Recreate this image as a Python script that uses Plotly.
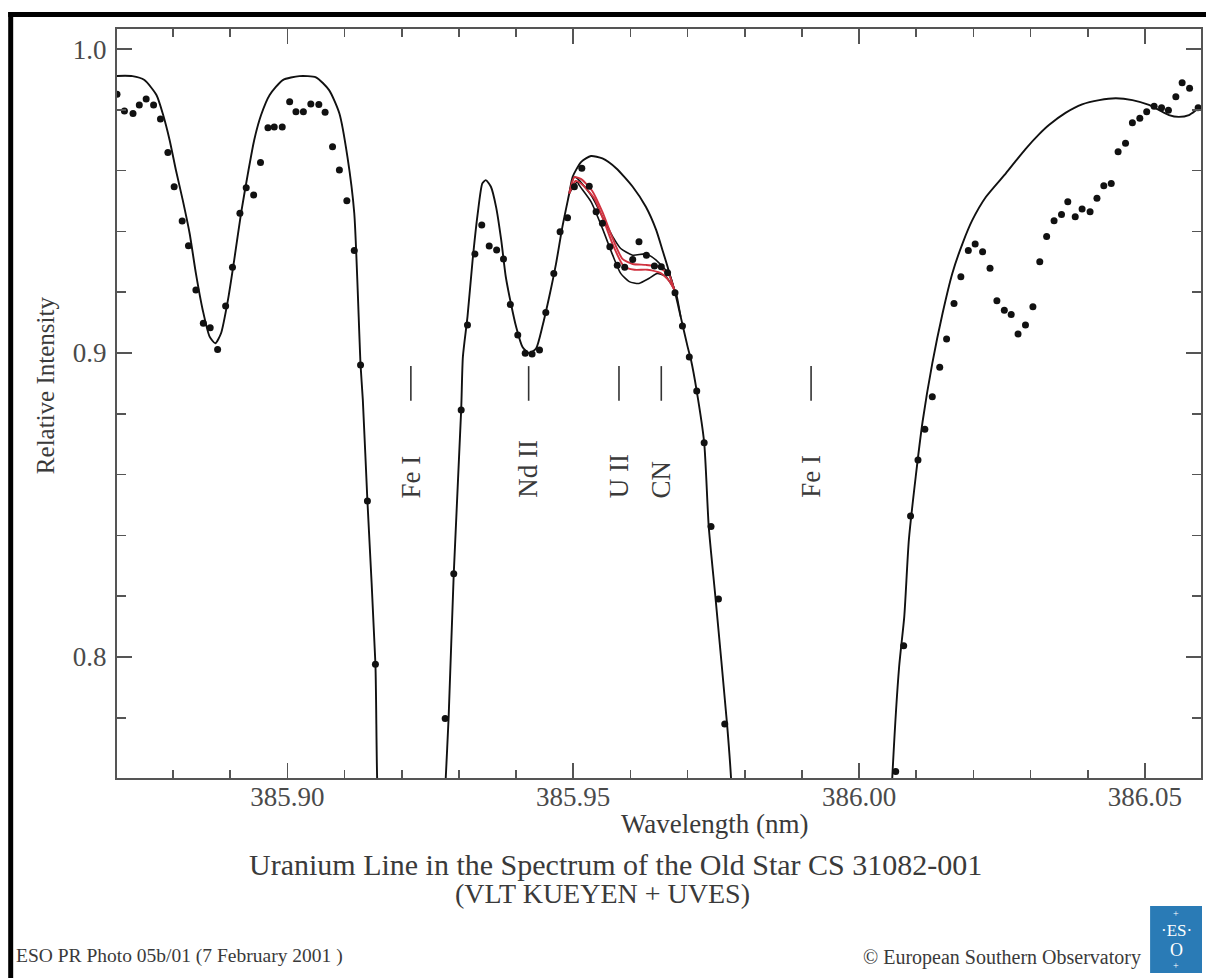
import plotly.graph_objects as go

# ---------------- observed spectrum (dots) ----------------
obs_wl = [
    385.8702, 385.8715, 385.8730, 385.8741, 385.8753, 385.8766, 385.8778, 385.8791,
    385.8802, 385.8816, 385.8827, 385.8840, 385.8853, 385.8865, 385.8878, 385.8892,
    385.8904, 385.8917, 385.8928, 385.8941, 385.8953, 385.8966, 385.8977, 385.8991,
    385.9004, 385.9015, 385.9028, 385.9041, 385.9055, 385.9066, 385.9079, 385.9091,
    385.9104, 385.9117, 385.9128, 385.9140, 385.9154,
    385.9276, 385.9291, 385.9304, 385.9315, 385.9328, 385.9340, 385.9353, 385.9366,
    385.9378, 385.9390, 385.9403, 385.9416, 385.9428, 385.9441, 385.9452, 385.9466,
    385.9477, 385.9490, 385.9502, 385.9515, 385.9528, 385.9540, 385.9551, 385.9564,
    385.9577, 385.9590, 385.9604, 385.9615, 385.9628, 385.9642, 385.9654, 385.9665,
    385.9678, 385.9691, 385.9703, 385.9716, 385.9729, 385.9741, 385.9754, 385.9765,
    386.0064, 386.0078, 386.0090, 386.0103, 386.0115, 386.0128, 386.0141, 386.0153,
    386.0166, 386.0178, 386.0191, 386.0203, 386.0216, 386.0229, 386.0241, 386.0254,
    386.0266, 386.0278, 386.0291, 386.0304, 386.0316, 386.0328, 386.0341, 386.0354,
    386.0365, 386.0378, 386.0390, 386.0404, 386.0416, 386.0428, 386.0441, 386.0453,
    386.0466, 386.0478, 386.0491, 386.0503, 386.0516, 386.0529, 386.0541, 386.0554,
    386.0565, 386.0578, 386.0593,
]
obs_flux = [
    0.9851, 0.9796, 0.9788, 0.9816, 0.9836, 0.9816, 0.9770, 0.9660,
    0.9547, 0.9434, 0.9353, 0.9207, 0.9098, 0.9083, 0.9012, 0.9155,
    0.9282, 0.9460, 0.9544, 0.9520, 0.9627, 0.9741, 0.9744, 0.9744,
    0.9827, 0.9794, 0.9794, 0.9819, 0.9818, 0.9792, 0.9679, 0.9602,
    0.9501, 0.9337, 0.8961, 0.8513, 0.7976,
    0.7798, 0.8274, 0.8813, 0.9092, 0.9326, 0.9421, 0.9352, 0.9339,
    0.9309, 0.9160, 0.9059, 0.8999, 0.8997, 0.9010, 0.9133, 0.9262,
    0.9399, 0.9445, 0.9547, 0.9608, 0.9549, 0.9465, 0.9427, 0.9350,
    0.9289, 0.9282, 0.9308, 0.9366, 0.9322, 0.9286, 0.9284, 0.9264,
    0.9198, 0.9089, 0.8987, 0.8875, 0.8705, 0.8429, 0.8191, 0.7780,
    0.7623, 0.8037, 0.8464, 0.8648, 0.8749, 0.8856, 0.8953, 0.9046,
    0.9163, 0.9251, 0.9337, 0.9359, 0.9333, 0.9279, 0.9172, 0.9141,
    0.9127, 0.9063, 0.9092, 0.9152, 0.9300, 0.9383, 0.9435, 0.9456,
    0.9498, 0.9448, 0.9474, 0.9465, 0.9509, 0.9550, 0.9558, 0.9662,
    0.9690, 0.9758, 0.9772, 0.9794, 0.9812, 0.9807, 0.9799, 0.9843,
    0.9889, 0.9871, 0.9807,
]

# ---------------- synthetic spectrum (main black curve) ----------------
model_wl = [
    385.8690, 385.8729, 385.8750, 385.8771, 385.8782, 385.8794, 385.8805, 385.8817,
    385.8829, 385.8840, 385.8852, 385.8864, 385.8874, 385.8884, 385.8896, 385.8907,
    385.8919, 385.8931, 385.8942, 385.8954, 385.8969, 385.8992, 385.9021, 385.9050,
    385.9073, 385.9091, 385.9105, 385.9117, 385.9128, 385.9132, 385.9140, 385.9154,
    385.9157, 385.9170, 385.9195, 385.9213, 385.9235, 385.9262,
    385.9277, 385.9282, 385.9291, 385.9304, 385.9307, 385.9315, 385.9324, 385.9333,
    385.9341, 385.9347, 385.9356, 385.9365, 385.9374, 385.9382, 385.9391, 385.9400,
    385.9411, 385.9423, 385.9435, 385.9446, 385.9458, 385.9470, 385.9481, 385.9493,
    385.9499, 385.9514, 385.9531, 385.9551, 385.9575, 385.9604, 385.9627, 385.9645,
    385.9656, 385.9665, 385.9668, 385.9677, 385.9688, 385.9700, 385.9706, 385.9716,
    385.9729, 385.9737, 385.9749, 385.9769, 385.9776, 385.9790,
    385.9850, 385.9912, 385.9980, 386.0045,
    386.0058, 386.0070, 386.0079, 386.0087, 386.0099, 386.0111, 386.0128, 386.0146,
    386.0163, 386.0181, 386.0198, 386.0222, 386.0257, 386.0274, 386.0291, 386.0315,
    386.0332, 386.0361, 386.0390, 386.0420, 386.0449, 386.0478, 386.0507, 386.0525,
    386.0542, 386.0559, 386.0577, 386.0594, 386.0610,
]
model_flux = [
    0.9911, 0.9911, 0.9898, 0.9849, 0.9788, 0.9701, 0.9602, 0.9503,
    0.9394, 0.9262, 0.9141, 0.9054, 0.9032, 0.9065, 0.9174, 0.9306,
    0.9460, 0.9591, 0.9701, 0.9783, 0.9849, 0.9898, 0.9911, 0.9907,
    0.9865, 0.9788, 0.9646, 0.9460, 0.8961, 0.8845, 0.8513, 0.7977,
    0.7602, 0.7000, 0.5000, 0.4500, 0.5000, 0.7000,
    0.7602, 0.7799, 0.8274, 0.8813, 0.8988, 0.9119, 0.9306, 0.9460,
    0.9558, 0.9569, 0.9547, 0.9481, 0.9372, 0.9251, 0.9163, 0.9087,
    0.9021, 0.8999, 0.9015, 0.9087, 0.9185, 0.9295, 0.9415, 0.9525,
    0.9580, 0.9629, 0.9648, 0.9640, 0.9608, 0.9547, 0.9481, 0.9405,
    0.9339, 0.9284, 0.9262, 0.9207, 0.9119, 0.9021, 0.8977, 0.8875,
    0.8706, 0.8429, 0.8191, 0.7780, 0.7602, 0.7000,
    0.4000, 0.3000, 0.4000, 0.7000,
    0.7603, 0.7968, 0.8133, 0.8385, 0.8593, 0.8774, 0.8966, 0.9131,
    0.9262, 0.9361, 0.9437, 0.9514, 0.9592, 0.9632, 0.9671, 0.9720,
    0.9750, 0.9790, 0.9818, 0.9832, 0.9838, 0.9832, 0.9816, 0.9799,
    0.9783, 0.9777, 0.9783, 0.9805, 0.9820,
]

# ---------------- synthetic variants around the U II line ----------------
var_black1_wl = [385.9493, 385.9502, 385.9510, 385.9533, 385.9551, 385.9569, 385.9583,
                 385.9604, 385.9627, 385.9645, 385.9662, 385.9668, 385.9677]
var_black1_flux = [0.9525, 0.9579, 0.9569, 0.9514, 0.9448, 0.9383, 0.9344,
                   0.9322, 0.9326, 0.9306, 0.9273, 0.9262, 0.9207]

var_red1_wl = [385.9493, 385.9502, 385.9514, 385.9533, 385.9551, 385.9569, 385.9586,
               385.9604, 385.9627, 385.9650, 385.9662, 385.9668, 385.9677]
var_red1_flux = [0.9525, 0.9579, 0.9572, 0.9534, 0.9464, 0.9377, 0.9310,
                 0.9293, 0.9290, 0.9283, 0.9266, 0.9256, 0.9207]

var_red2_wl = [385.9493, 385.9504, 385.9516, 385.9537, 385.9554, 385.9572, 385.9589,
               385.9607, 385.9630, 385.9653, 385.9665, 385.9671, 385.9677]
var_red2_flux = [0.9525, 0.9566, 0.9554, 0.9508, 0.9432, 0.9344, 0.9284,
                 0.9274, 0.9274, 0.9263, 0.9243, 0.9228, 0.9207]

var_black2_wl = [385.9493, 385.9507, 385.9510, 385.9531, 385.9551, 385.9569, 385.9583,
                 385.9598, 385.9615, 385.9633, 385.9647, 385.9662, 385.9674, 385.9680, 385.9688]
var_black2_flux = [0.9525, 0.9563, 0.9553, 0.9498, 0.9410, 0.9322, 0.9262,
                   0.9235, 0.9229, 0.9246, 0.9262, 0.9251, 0.9218, 0.9197, 0.9119]

# ---------------- line identifications ----------------
id_names = ["Fe I", "Nd II", "U II", "CN", "Fe I"]
id_wl = [385.9216, 385.9422, 385.9580, 385.9654, 385.9916]
id_bar_low, id_bar_high = 0.8843, 0.8957
id_text_base = 0.8516

# ---------------- axes ticks ----------------
x_tickvals = [385.90, 385.95, 386.00, 386.05]
x_ticktext = ["385.90", "385.95", "386.00", "386.05"]
y_tickvals = [0.8, 0.9, 1.0]
y_ticktext = ["0.8", "0.9", "1.0"]

SERIF = "Liberation Serif, Times New Roman, serif"
AXC = "#555555"
TXT = "#3a3a3a"
SMOOTH = 0.6

fig = go.Figure()

# identification bars
bx, by = [], []
for w in id_wl:
    bx += [w, w, None]
    by += [id_bar_low, id_bar_high, None]
fig.add_trace(go.Scatter(x=bx, y=by, mode="lines",
                         line=dict(color="#333333", width=1.6),
                         hoverinfo="skip", showlegend=False))

fig.add_trace(go.Scatter(x=model_wl, y=model_flux, mode="lines",
                         line=dict(color="#111111", width=1.9, shape="spline", smoothing=SMOOTH),
                         showlegend=False))
fig.add_trace(go.Scatter(x=var_black1_wl, y=var_black1_flux, mode="lines",
                         line=dict(color="#111111", width=1.6, shape="spline", smoothing=SMOOTH),
                         showlegend=False))
fig.add_trace(go.Scatter(x=var_black2_wl, y=var_black2_flux, mode="lines",
                         line=dict(color="#111111", width=1.6, shape="spline", smoothing=SMOOTH),
                         showlegend=False))
fig.add_trace(go.Scatter(x=var_red1_wl, y=var_red1_flux, mode="lines",
                         line=dict(color="#d0323f", width=1.9, shape="spline", smoothing=SMOOTH),
                         showlegend=False))
fig.add_trace(go.Scatter(x=var_red2_wl, y=var_red2_flux, mode="lines",
                         line=dict(color="#d0323f", width=1.9, shape="spline", smoothing=SMOOTH),
                         showlegend=False))

fig.add_trace(go.Scatter(x=obs_wl, y=obs_flux, mode="markers",
                         marker=dict(color="#111111", size=7),
                         showlegend=False))

W, H = 1206, 978
ML, MR, MT, MB = 117, 3, 29, 200
PW, PH = W - ML - MR, H - MT - MB


def px(xp):
    return (xp - ML) / PW


def py(yp):
    return (H - MB - yp) / PH


annotations = []
for name, w in zip(id_names, id_wl):
    annotations.append(dict(x=w, y=id_text_base, xref="x", yref="y", text=name,
                            textangle=-90, showarrow=False, xanchor="center",
                            yanchor="bottom",
                            font=dict(family=SERIF, size=27, color=TXT)))


def label(xp, yp, text, size, color=TXT, xanchor="center", angle=0):
    return dict(x=px(xp), y=py(yp), xref="paper", yref="paper", text=text,
                textangle=angle, showarrow=False, xanchor=xanchor, yanchor="middle",
                font=dict(family=SERIF, size=size, color=color))


annotations += [
    label(45, 385, "Relative Intensity", 25, angle=-90),
    label(716, 824, "Wavelength (nm)", 27),
    label(616, 864, "Uranium Line in the Spectrum of the Old Star CS 31082-001", 30),
    label(603, 893, "(VLT KUEYEN + UVES)", 28),
    label(14, 956, "ESO PR Photo 05b/01 (7 February 2001 )", 19.5, xanchor="left"),
    label(1145, 957, "© European Southern Observatory", 20, xanchor="right"),
    # ESO logo text
    label(1178, 930, "·ES·", 17, color="white"),
    label(1178, 950, "O", 18, color="white"),
    label(1178, 913, "+", 10, color="white"),
    label(1178, 966, "+", 10, color="white"),
]

shapes = [
    # black frame (top and left)
    dict(type="rect", xref="paper", yref="paper", x0=px(8), x1=px(1215), y0=py(17), y1=py(12),
         fillcolor="black", line=dict(width=0), layer="above"),
    dict(type="rect", xref="paper", yref="paper", x0=px(8), x1=px(13), y0=py(990), y1=py(12),
         fillcolor="black", line=dict(width=0), layer="above"),
    # ESO logo square
    dict(type="rect", xref="paper", yref="paper", x0=px(1152), x1=px(1204), y0=py(973), y1=py(906),
         fillcolor="#2a7bb6", line=dict(width=0), layer="above"),
]

axis_common = dict(showline=True, linecolor=AXC, linewidth=2, mirror="allticks",
                   ticks="inside", ticklen=15, tickwidth=1.6, tickcolor=AXC,
                   showgrid=False, zeroline=False,
                   tickfont=dict(family=SERIF, size=27, color="#4a4a4a"))

fig.update_layout(
    width=W, height=H,
    margin=dict(l=ML, r=MR, t=MT, b=MB),
    paper_bgcolor="white", plot_bgcolor="white",
    xaxis=dict(range=[385.8702, 386.0598], tickmode="array", tickvals=x_tickvals,
               ticktext=x_ticktext, ticklabelstandoff=-6,
               minor=dict(tickmode="linear", tick0=385.90, dtick=0.01, ticks="inside",
                          ticklen=8, tickwidth=1.6, tickcolor=AXC),
               **axis_common),
    yaxis=dict(range=[0.7602, 1.0066], tickmode="array", tickvals=y_tickvals,
               ticktext=y_ticktext, ticklabelstandoff=3,
               minor=dict(tickmode="linear", tick0=0.8, dtick=0.02, ticks="inside",
                          ticklen=9, tickwidth=1.6, tickcolor=AXC),
               **axis_common),
    annotations=annotations,
    shapes=shapes,
    showlegend=False,
    hovermode=False,
)

fig.write_html("out.html",
               config={"displayModeBar": False, "staticPlot": True},
               post_script="document.body.style.margin='0px';"
                           "document.body.style.overflow='hidden';")
